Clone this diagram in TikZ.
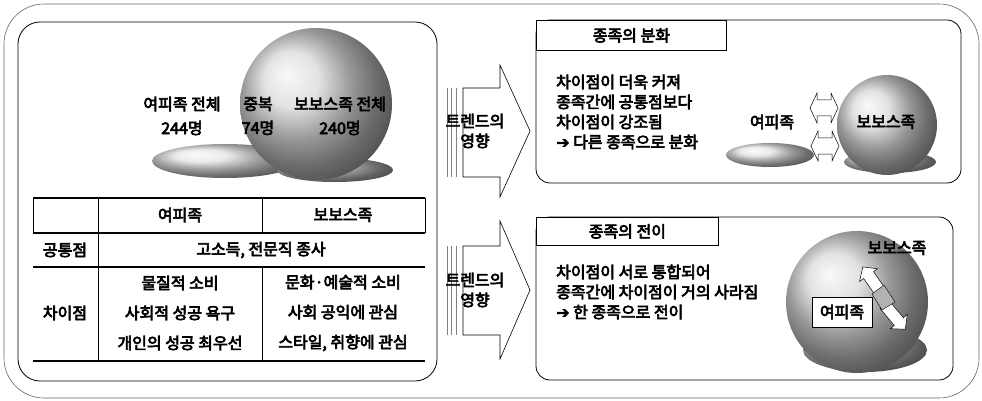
\documentclass[tikz,border=0pt]{standalone}
\usepackage{fontspec}
\setmainfont{Noto Sans CJK KR}[AutoFakeBold=4]
\newfontfamily\symfont{DejaVu Sans}[AutoFakeBold=1.5]
\usetikzlibrary{calc,arrows.meta,positioning}

\tikzset{
  kr/.style={font=\bfseries\fontsize{16}{20}\selectfont, inner sep=1pt},
  panel/.style={draw, line width=0.8pt, rounded corners=14pt},
  titlebox/.style={kr, draw, fill=white, line width=0.8pt, anchor=north west},
  tline/.style={line width=1.4pt},
  blob/.style={ball color=gray!30},
  flat/.style={ball color=gray!22},
  shapeline/.style={draw=black, fill=white, line width=0.5pt}
}

\begin{document}
\begin{tikzpicture}[x=1pt,y=-1pt]
        \useasboundingbox (0,0) rectangle (982,401);
        % frames
        \draw[gray!80!black, line width=0.6pt, rounded corners=40pt] (4,4) rectangle (979,398);
        \draw[panel, rounded corners=22pt] (18,22) rectangle (437,381);

        % both groups, left
        \shade[flat] (225,161) ellipse [x radius=73pt, y radius=17pt];
        \shade[ball color=gray!45] (335,170) ellipse [x radius=58pt, y radius=12pt];
        \shade[blob] (316,104) circle (76pt);
        \node[kr, align=center] (yall) at (182,116) {여피족 전체\\[4pt]244명};
        \node[kr, align=center] (both) at (258,116) {중복\\[4pt]74명};
        \node[kr, align=center] (ball) at (340,116) {보보스족 전체\\[4pt]240명};

        % table
        \foreach \y in {198,233,267,361}
          \draw[tline] (33,\y) -- (425,\y);
        \draw[line width=0.7pt]
        (33,198) -- (33,233) (425,198) -- (425,233)
        (98,198) -- (98,361)
        (262,198) -- (262,233) (262,267) -- (262,361);
        \node[kr] (hy) at (180,215) {여피족};
        \node[kr] (hb) at (343,215) {보보스족};
        \node[kr] (same) at (65,250) {공통점};
        \node[kr] (samet) at (261,250) {고소득, 전문직 종사};
        \node[kr] (diff) at (65,313) {차이점};
        \node[kr, align=center] (diffy) at (180,313) {물질적 소비\\[10pt]사회적 성공 욕구\\[10pt]개인의 성공 최우선};
        \node[kr, align=center] (diffb) at (343,313) {문화·예술적 소비\\[10pt]사회 공익에 관심\\[10pt]스타일, 취향에 관심};

        % trend arrows
        \foreach \t/\b/\ht/\hb/\m in {88/177/65/197/131, 246/335/221/359/290} {
          \draw[line width=0.6pt] (463,\t) -- (500,\t) -- (500,\ht) -- (530,\m)
            -- (500,\hb) -- (500,\b) -- (463,\b) -- cycle;
          \foreach \x in {447,451,456}
            \draw[gray, line width=0.5pt] (\x,\t) -- (\x,\b);
        }
        \node[kr, align=center] (trend1) at (475,131) {트렌드의\\영향};
        \node[kr, align=center] (trend2) at (475,290) {트렌드의\\영향};

        % divergence
        \draw[panel] (536,20) rectangle (961,183);
        \node[titlebox, minimum width=190pt, minimum height=30pt] (split) at (536,20) {종족의 분화};
        \node[kr, anchor=west, align=left] (splitt) at (555,112)
          {차이점이 더욱 커져\\종족간에 공통점보다\\차이점이 강조됨\\{\symfont\bfseries ➔} 다른 종족으로 분화};
        \shade[flat] (770,155) ellipse [x radius=44pt, y radius=12pt];
        \shade[ball color=gray!45] (890,162) ellipse [x radius=46pt, y radius=11pt];
        \shade[blob] (887,125) circle (50pt);
        \foreach \c in {(824,108),(825,146)}
          \draw[shapeline, shift={\c}] (-14,0) -- (-7,-15) -- (-7,-8) -- (7,-8) -- (7,-15)
            -- (14,0) -- (7,15) -- (7,8) -- (-7,8) -- (-7,15) -- cycle;
        \node[kr] (sy) at (772,122) {여피족};
        \node[kr] (sb) at (886,122) {보보스족};

        % transition
        \draw[panel] (536,217) rectangle (953,380);
        \node[titlebox, minimum width=182pt, minimum height=28pt] (move) at (536,217) {종족의 전이};
        \node[kr, anchor=west, align=left] (movet) at (555,292)
          {차이점이 서로 통합되어\\종족간에 차이점이 거의 사라짐\\{\symfont\bfseries ➔} 한 종족으로 전이};
        \shade[ball color=gray!45] (865,350) ellipse [x radius=62pt, y radius=22pt];
        \shade[blob] (857,302) circle (71pt);
        \node[kr] (mb) at (897,248) {보보스족};
        \foreach \c/\a in {(872,280)/125, (895,317)/-50}
          \draw[shapeline, shift={\c}, rotate=\a] (-16,-6) -- (6,-6) -- (6,-11) -- (16,0)
            -- (6,11) -- (6,6) -- (-16,6) -- cycle;
        \fill[gray!60, draw=black, line width=0.4pt] (872,294) -- (884,285) -- (895,302) -- (882,310) -- cycle;
        \node[kr, draw, fill=white, line width=0.6pt, minimum width=60pt, minimum height=30pt] (my) at (842,312) {여피족};
\end{tikzpicture}
\end{document}
